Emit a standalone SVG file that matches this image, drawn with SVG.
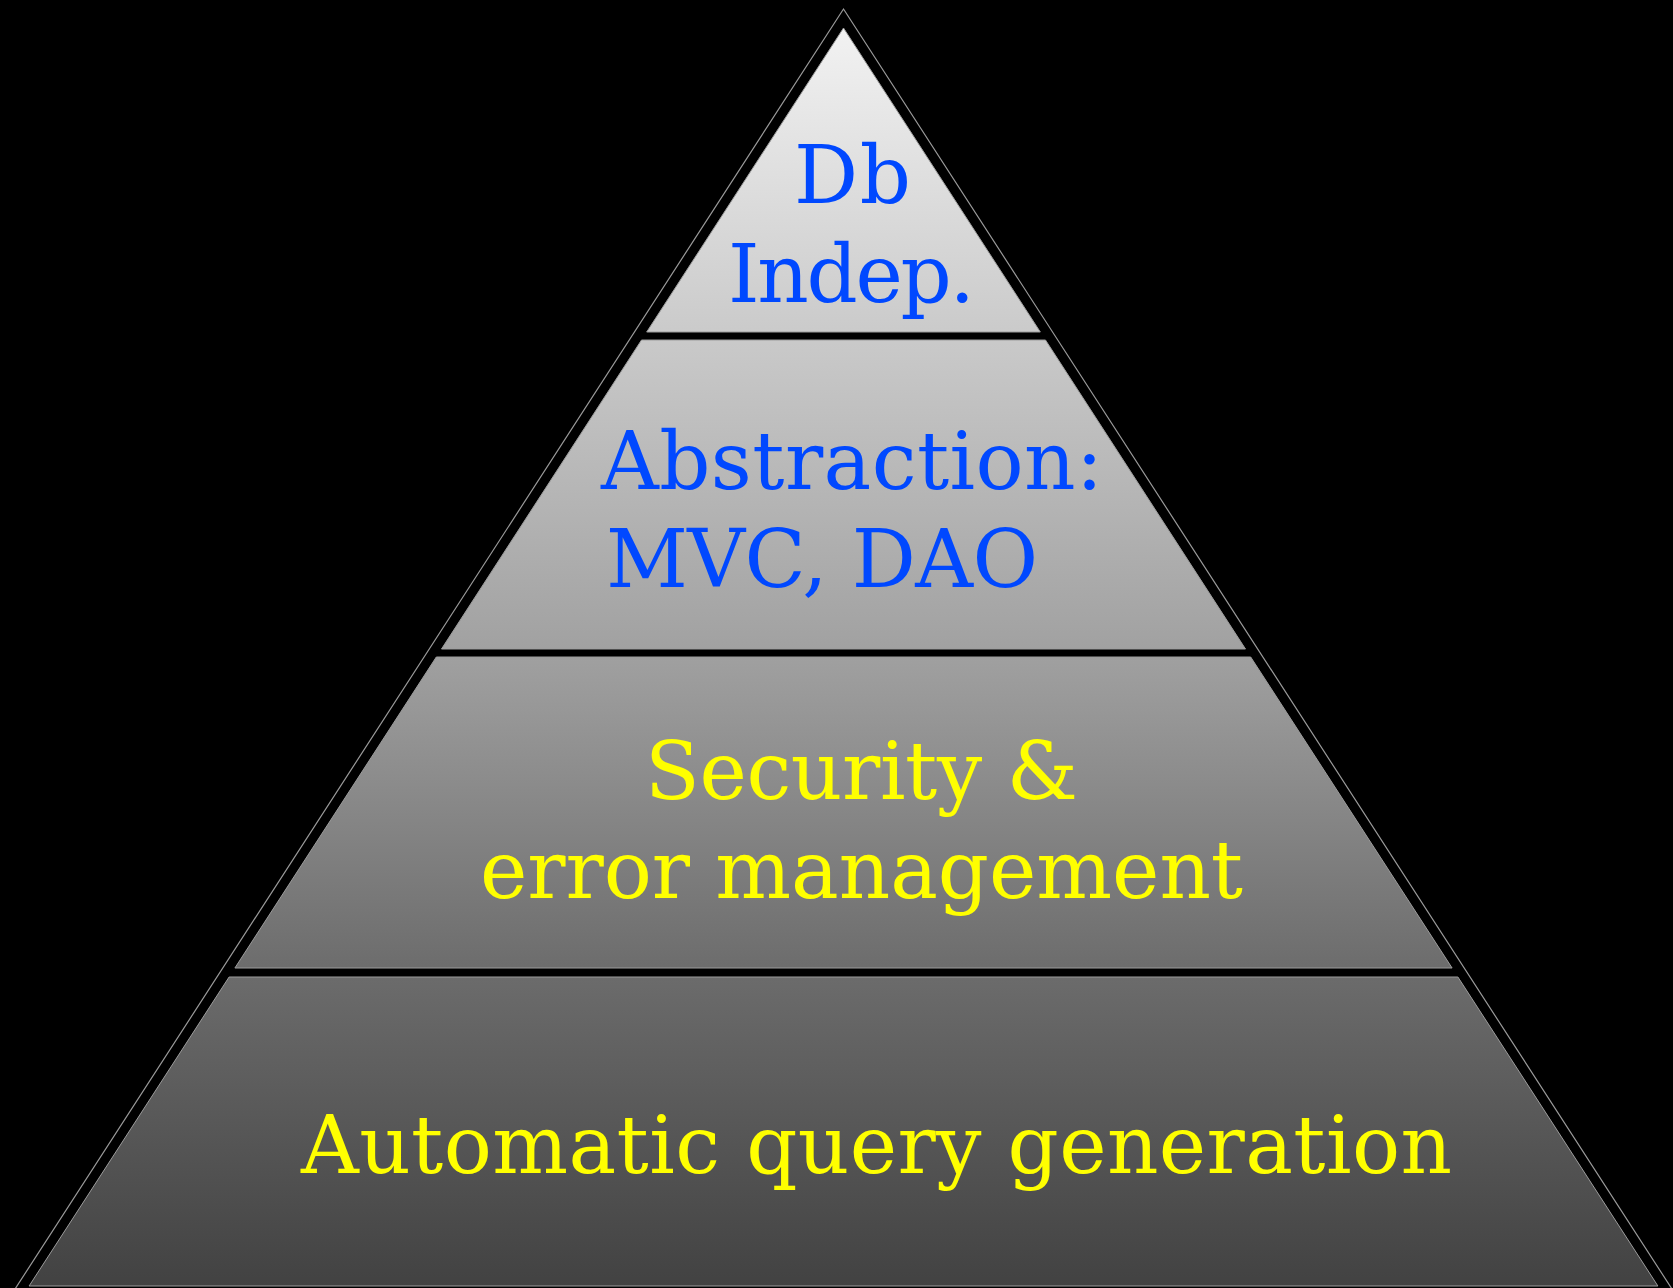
<svg xmlns="http://www.w3.org/2000/svg" width="1673" height="1288" viewBox="0 0 1673 1288">
  <defs>
    <linearGradient id="pyr" gradientUnits="userSpaceOnUse" x1="0" y1="28" x2="0" y2="1286">
      <stop offset="0" stop-color="#f2f2f2"/>
      <stop offset="0.25" stop-color="#c9c9c9"/>
      <stop offset="0.5" stop-color="#a0a0a0"/>
      <stop offset="0.75" stop-color="#6c6c6c"/>
      <stop offset="1" stop-color="#424242"/>
    </linearGradient>
    <style>
      .band { fill: url(#pyr); stroke: #9c9c9c; stroke-width: 1; }
      .lbl { font-family: "DejaVu Serif", "Liberation Serif", serif; font-size: 80px; }
      .blue { fill: #0048ff; }
      .yellow { fill: #ffff00; }
    </style>
  </defs>
  <rect x="0" y="0" width="1673" height="1288" fill="#000000"/>
  <polygon id="outline" points="843.5,9 1676.5,1296 10.5,1296" fill="#000000" stroke="#9a9a9a" stroke-width="1.2"/>
  <g id="level1">
    <polygon class="band" points="843.5,28 1040.3,332 646.7,332"/>
    <text class="lbl blue" x="794" y="203" textLength="117">Db</text>
    <text class="lbl blue" x="728" y="302" textLength="247">Indep.</text>
  </g>
  <g id="level2">
    <polygon class="band" points="641.5,340 1045.5,340 1245.5,649 441.5,649"/>
    <text class="lbl blue" x="601" y="489" textLength="502">Abstraction:</text>
    <text class="lbl blue" x="606" y="587" textLength="432">MVC, DAO</text>
  </g>
  <g id="level3">
    <polygon class="band" points="436.3,657 1250.7,657 1452.1,968 234.9,968"/>
    <text class="lbl yellow" x="645" y="799" textLength="433">Security &amp;</text>
    <text class="lbl yellow" x="480" y="898" textLength="763">error management</text>
  </g>
  <g id="level4">
    <polygon class="band" points="229.1,977 1457.9,977 1657.9,1286 29.1,1286"/>
    <text class="lbl yellow" x="301" y="1173" textLength="1151">Automatic query generation</text>
  </g>
  <g id="connectors"/>
</svg>
